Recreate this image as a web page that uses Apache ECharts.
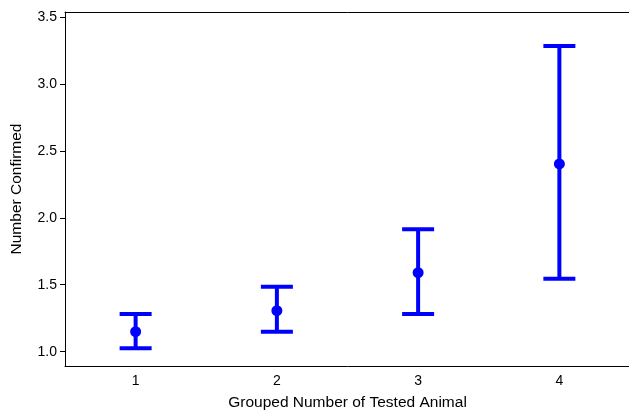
<!DOCTYPE html>
<html>
<head>
<meta charset="utf-8">
<script src="https://cdn.jsdelivr.net/npm/echarts@6/dist/echarts.min.js"></script>
<style>
  html, body { margin: 0; padding: 0; background: #fff; }
  #chart { width: 629px; height: 410px; }
</style>
</head>
<body>
<div id="chart"></div>
<script>
const groups = ['1', '2', '3', '4'];
const means = [1.149, 1.306, 1.590, 2.402];
const lower = [1.025, 1.149, 1.282, 1.545];
const upper = [1.282, 1.485, 1.914, 3.283];
const yTicks = [1.0, 1.5, 2.0, 2.5, 3.0, 3.5];

const blue = '#0000FF';
const font = 'Liberation Sans';

var chart = echarts.init(document.getElementById('chart'));

const errData = groups.map((g, i) => [i, lower[i], upper[i]]);

const option = {
  animation: false,
  grid: { left: 65, right: -1, top: 12, bottom: 44, outerBoundsMode: 'none', containLabel: false },
  xAxis: [
    {
      type: 'category',
      data: groups,
      boundaryGap: true,
      name: 'Grouped Number of Tested Animal',
      nameLocation: 'middle',
      nameGap: 29,
      nameTextStyle: { fontFamily: font, fontSize: 15.5, color: '#000' },
      axisLine: { lineStyle: { color: '#000', width: 1 } },
      axisTick: { alignWithLabel: true, length: 5, lineStyle: { color: '#000' } },
      axisLabel: { fontFamily: font, fontSize: 14, color: '#000', margin: 8 },
      splitLine: { show: false }
    },
    {
      type: 'category',
      data: groups,
      position: 'top',
      axisLine: { lineStyle: { color: '#000', width: 1 } },
      axisTick: { show: false },
      axisLabel: { show: false },
      splitLine: { show: false }
    }
  ],
  yAxis: {
    type: 'value',
    min: 0.893,
    max: 3.537,
    name: 'Number Confirmed',
    nameLocation: 'middle',
    nameGap: 40,
    nameTextStyle: { fontFamily: font, fontSize: 15.5, color: '#000' },
    axisLine: { show: true, lineStyle: { color: '#000', width: 1 } },
    axisTick: { show: true, length: 5, customValues: yTicks, lineStyle: { color: '#000' } },
    axisLabel: {
      fontFamily: font, fontSize: 14, color: '#000', margin: 8,
      customValues: yTicks,
      formatter: v => v.toFixed(1)
    },
    splitLine: { show: false }
  },
  series: [
    {
      type: 'custom',
      data: errData,
      renderItem: function (params, api) {
        const x = api.value(0);
        const lo = api.coord([x, api.value(1)]);
        const hi = api.coord([x, api.value(2)]);
        const half = 16;
        const style = { stroke: blue, lineWidth: 4, fill: null };
        return {
          type: 'group',
          children: [
            { type: 'line', shape: { x1: lo[0], y1: lo[1], x2: hi[0], y2: hi[1] }, style: style },
            { type: 'line', shape: { x1: hi[0] - half, y1: hi[1], x2: hi[0] + half, y2: hi[1] }, style: style },
            { type: 'line', shape: { x1: lo[0] - half, y1: lo[1], x2: lo[0] + half, y2: lo[1] }, style: style }
          ]
        };
      },
      z: 2
    },
    {
      type: 'scatter',
      data: means,
      symbol: 'circle',
      symbolSize: 11,
      itemStyle: { color: blue, opacity: 1 },
      z: 3
    }
  ]
};

chart.setOption(option);
</script>
</body>
</html>
